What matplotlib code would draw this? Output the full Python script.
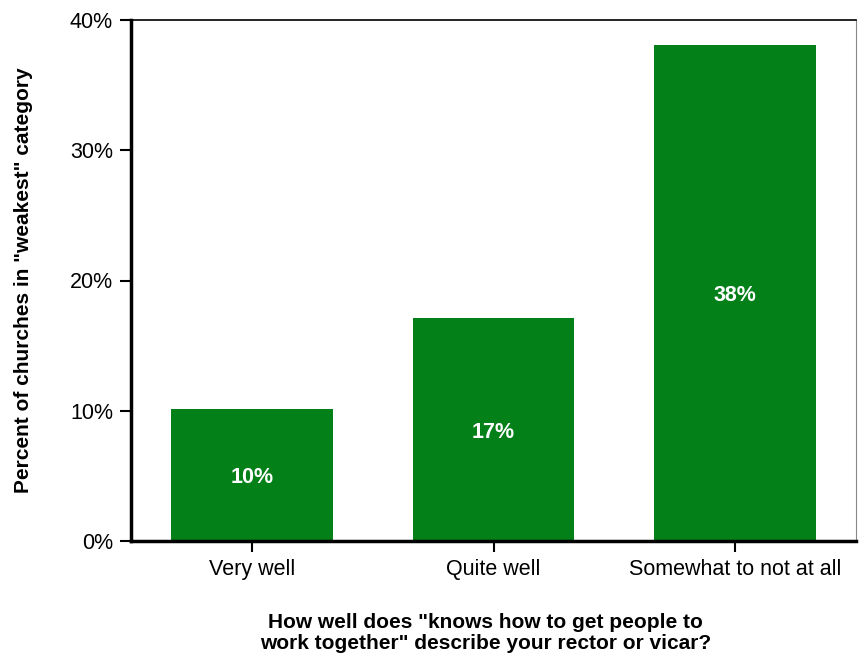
import matplotlib
matplotlib.use('Agg')
import matplotlib.pyplot as plt
from matplotlib.ticker import PercentFormatter

categories = ['Very well', 'Quite well', 'Somewhat to not at all']
values = [10.1, 17.1, 38.1]
labels = ['10%', '17%', '38%']
yticks = [0, 10, 20, 30, 40]

plt.rcParams['font.family'] = ['Liberation Sans', 'DejaVu Sans']

fig = plt.figure(figsize=(8.6, 6.58), dpi=100)
ax = fig.add_axes([131 / 860, 117 / 658, 725 / 860, 521 / 658])

x = range(len(categories))
bars = ax.bar(x, values, width=0.67, color='#038017', zorder=2)
for bar, lab in zip(bars, labels):
    ax.text(bar.get_x() + bar.get_width() / 2, bar.get_height() / 2 - 0.2, lab,
            ha='center', va='center', color='white', fontsize=15.5, fontweight='bold')

ax.set_xlim(-0.5, 2.5)
ax.set_ylim(0, 40)
ax.set_yticks(yticks)
ax.yaxis.set_major_formatter(PercentFormatter(decimals=0))
ax.set_xticks(list(x))
ax.set_xticklabels(categories)
ax.tick_params(axis='both', direction='out', length=8, width=1.5, labelsize=15.5,
               colors='black', pad=5)

ax.spines['left'].set_linewidth(2.5)
ax.spines['bottom'].set_linewidth(2.5)
ax.spines['top'].set_linewidth(1.2)
ax.spines['right'].set_linewidth(0.8)
ax.spines['right'].set_color('#888888')

ax.set_ylabel('Percent of churches in "weakest" category', fontsize=15,
              fontweight='bold', va='center')
ax.yaxis.set_label_coords(-0.148, 0.5)
ax.set_xlabel('How well does "knows how to get people to\nwork together" describe your rector or vicar?',
              fontsize=15, fontweight='bold', linespacing=1.15, va='center')
ax.xaxis.set_label_coords(0.489, -0.177)

fig.savefig('out.png', dpi=100)
